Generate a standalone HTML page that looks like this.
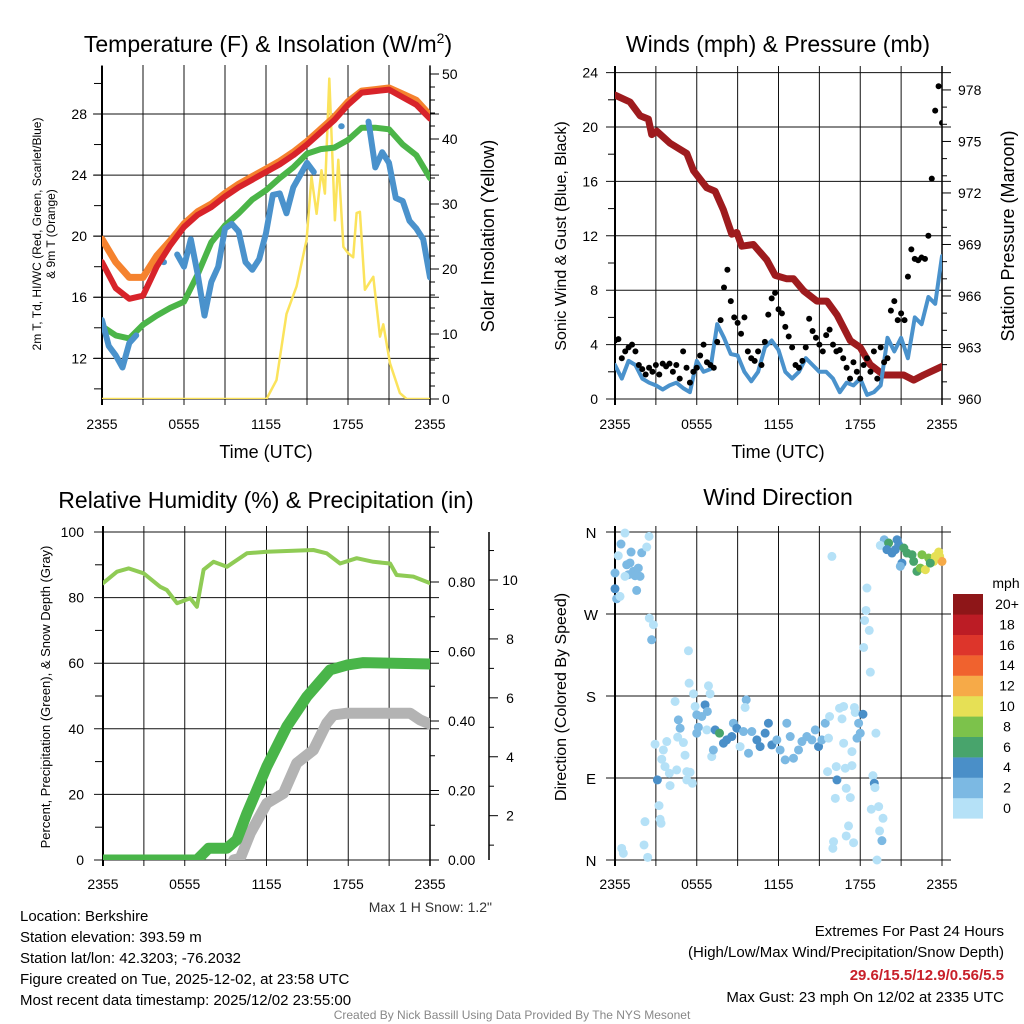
<!DOCTYPE html>
<html><head><meta charset="utf-8"><style>
html,body{margin:0;padding:0;background:#fff;}
svg{display:block;font-family:"Liberation Sans",sans-serif;}
</style></head><body>
<svg id="c" width="1024" height="1024" viewBox="0 0 1024 1024" xmlns="http://www.w3.org/2000/svg">
<defs>
<clipPath id="cp1"><rect x="102" y="71" width="328" height="328"/></clipPath>
<clipPath id="cp2"><rect x="615" y="72" width="327" height="327"/></clipPath>
<clipPath id="cp3"><rect x="103" y="532" width="327" height="328"/></clipPath>
</defs>
</svg>
<script>
// ---------- Panel 1 data ----------
const hourTimes=[0,1,2,3,4,5,6,7,8,9,10,11,12,13,14,15,16,17,18,19,20,21,22,23,24];
const tempRed=[18.3,16.6,15.9,16.1,18.0,19.4,20.6,21.4,21.9,22.6,23.2,23.7,24.2,24.7,25.3,26.0,26.8,27.6,28.6,29.4,29.5,29.6,29.1,28.6,27.7];
const tempOrange=[19.8,18.3,17.3,17.3,18.7,19.7,20.8,21.6,22.1,22.8,23.4,23.9,24.4,24.9,25.5,26.2,27.0,27.8,28.8,29.5,29.6,29.7,29.3,28.9,27.9];
const tempGreen=[14.1,13.5,13.3,14.2,14.8,15.3,15.7,17.5,19.6,20.7,21.5,22.4,23.0,23.8,24.5,25.4,25.7,25.8,26.3,27.1,27.1,27.0,26.0,25.3,23.8];
const halfTimes=[];for(let i=0;i<=48;i++)halfTimes.push(i/2);
const tempBlue=[14.5,12.8,12.2,11.4,13.0,13.5,null,null,null,18.3,null,18.8,18.0,19.8,17.5,14.8,17.0,18.0,20.5,20.8,20.3,18.3,17.8,18.5,20.2,22.7,22.8,21.5,23.2,24.0,24.8,24.2,null,null,null,27.2,null,null,null,27.5,24.5,25.5,24.8,22.5,22.3,21.0,20.5,19.8,17.3];
const solarTimes=[0,12.04,12.77,13.5,14.23,14.97,15.33,15.7,16.06,16.31,16.63,17.04,17.29,17.66,18.02,18.38,18.63,18.87,19.24,19.85,20.34,20.58,21.07,21.8,22.29,24];
const solarVals=[0,0,2.9,13.1,17.3,24.5,34.2,28.5,35.2,31.6,49.3,27.5,36.8,23.4,22.4,21.8,28.6,28.8,16.8,18.8,9.6,11.5,5.5,0.9,0,0];
const p1LeftTicks=[12,16,20,24,28];
const p1RightTicks=[0,10,20,30,40,50];
const timeLabels=["2355","0555","1155","1755","2355"];
const timeLabelHours=[0,6,12,18,24];
// ---------- Panel 2 data ----------
const presTimes=[0,1.1,1.84,2.45,2.69,3.06,4.04,5.27,5.76,6.74,7.35,7.96,8.57,8.94,9.31,10.16,11.14,11.76,12.61,13.1,13.84,14.82,15.55,16.29,17.27,18.0,18.74,19.72,20.2,21.19,21.92,22.65,24];
const presVals=[977.7,977.3,976.5,976.3,975.4,975.6,974.9,974.3,973.3,972.3,972.1,971.0,969.6,969.7,968.9,969.0,968.1,967.2,967.0,967.0,966.3,965.7,965.7,964.9,963.4,963.0,962.0,961.4,961.4,961.4,961.1,961.4,961.9];
const windVals=[2.5,1.5,2.8,2.5,1.5,1.2,1.0,0.7,1.0,1.2,0.8,0.5,2.8,2.0,2.2,5.5,4.5,3.3,3.2,2.0,1.3,2.0,3.8,4.3,3.6,2.0,1.5,2.0,3.0,2.5,2.0,2.0,1.5,0.5,1.2,1.0,1.5,0.3,0.5,1.0,4.5,3.5,4.5,3.0,6.0,5.5,7.5,7.0,10.5];
const gustVals=[4.3,4.4,3.0,3.5,3.8,4.0,3.5,2.5,2.2,1.8,2.3,2.0,2.5,1.8,2.6,2.4,2.6,2.0,2.5,1.5,3.5,2.3,1.2,2.0,2.3,3.2,4.0,2.7,2.5,2.3,4.2,5.8,8.2,9.5,7.2,6.0,5.6,4.8,6.0,3.5,3.0,2.8,3.5,2.5,4.2,6.2,7.4,7.8,6.6,6.3,5.3,4.6,3.8,2.5,2.3,2.8,3.8,5.9,5.0,4.5,4.0,3.5,4.7,5.1,4.0,3.5,3.6,3.0,2.3,1.5,2.7,2.0,1.5,2.5,3.0,2.0,3.5,1.5,3.8,2.7,3.0,6.5,7.2,5.8,6.3,5.8,9.0,11.0,10.3,10.2,10.4,10.3,12.0,16.2,21.2,23.0,20.3];
const p2LeftTicks=[0,4,8,12,16,20,24];
const p2RightTicks=[960,963,966,969,972,975,978];
// ---------- Panel 3 data ----------
const rhTimes=[0,1.03,1.88,2.98,4.2,4.69,5.43,6.4,6.89,7.38,8.11,9.09,10.56,12.02,15.44,16.42,17.4,18.62,19.84,21.07,21.55,22.78,24];
const rhVals=[84.4,87.9,88.9,87.4,83.3,82.3,78.3,79.8,77.2,88.5,90.9,89.4,93.5,94.0,94.5,93.5,90.4,92.0,90.9,90.4,86.9,86.4,84.4];
const precipTimes=[0,6.89,7.75,9.09,9.82,10.56,12.02,13.49,14.96,16.67,17.89,19.11,24];
const precipVals=[0,0,0.034,0.034,0.058,0.134,0.269,0.384,0.47,0.547,0.561,0.568,0.564];
const snowTimes=[9.6,10.07,10.8,12.02,13.25,14.22,15.44,16.42,16.91,17.89,22.54,23.27,24];
const snowVals=[0.5,0.55,1.4,2.42,2.76,3.78,4.23,5.14,5.42,5.48,5.48,5.25,5.11];
const p3LeftTicks=[0,20,40,60,80,100];
const p3PrecipTicks=["0.00","0.20","0.40","0.60","0.80"];
const p3SnowTicks=[2,4,6,8,10];
// ---------- Panel 4 data ----------
const dirTimes=[0.73,0.44,0.24,1.18,1.96,2.33,2.5,0,0.86,1.10,1.35,1.71,1.84,0.98,0.73,1.47,0,0.12,0.37,1.59,2.52,2.82,2.69,5.39,0.49,0.61,2.2,2.13,2.4,3.11,3.23,3.31,3.38,2.94,3.55,3.8,3.43,3.67,3.99,4.04,4.53,4.41,4.65,4.78,4.6,5.02,5.14,5.27,5.51,5.27,5.68,5.44,5.76,5.88,6.0,6.0,6.12,6.37,6.61,6.78,6.86,6.98,6.74,7.1,7.22,7.35,7.67,7.96,8.2,8.57,8.69,8.94,9.43,9.63,9.55,9.18,9.8,10.04,10.41,10.65,11.02,11.26,11.51,11.88,12.12,12.49,12.61,12.86,13.1,13.47,13.72,14.08,14.45,14.7,14.94,15.18,15.43,15.75,15.67,15.6,16.24,16.29,16.17,16.48,16.78,16.66,16.78,16.9,16.97,17.27,17.39,17.39,17.14,16.97,17.51,16.04,15.99,15.92,17.57,17.63,17.88,18.0,17.76,18.2,18.49,18.42,18.32,18.66,18.25,18.74,19.15,18.93,19.03,19.08,18.81,19.35,19.67,19.42,19.59,19.23,19.76,19.47,20.08,20.33,20.7,20.82,20.57,19.96,21.2,21.43,21.8,21.92,21.06,20.94,22.16,22.53,22.41,22.78,23.02,23.39,23.76,23.83,24,23.51,23.14];
const dirVals=[358.9,346.8,334,338,337.2,343.5,355.2,315,324,326,316.8,320.4,311.3,313.1,311.3,312,297.7,286.7,289.3,295.9,265.5,258.2,241.7,229.6,12.8,7.3,42.1,16.5,2.9,87.9,59.7,44.7,40.3,127.1,120.8,130,110.6,102.5,95.2,81.7,98.9,174,153.8,144.6,134.8,128.9,115,97,96.3,87.9,84.2,194.1,182.4,168.5,159.3,139.2,145.7,157.5,170.3,163,191.2,182.4,142.8,113.5,120.8,142.8,139.2,128.2,131.8,135.5,150.1,144.6,141,175.8,167.4,124.5,117.2,141,131.8,124.5,139.2,150.1,126.3,131.8,120.8,109.9,150.1,135.5,111.7,120.8,130,135.5,131.8,142.8,124.5,131.8,150.1,157.5,133.7,97,102.5,87.9,67.7,166.6,168.5,154.9,128.2,100.7,78.7,68.5,119,103.6,37.4,26.4,19,20.1,12.8,333.2,167.4,161.9,150.1,139.2,133.7,160,298.5,273.9,262.9,252,233.3,206.2,139.2,92.6,84.2,79.5,55.7,58.6,45.8,31.9,21.2,0,351.5,345.3,347.9,336.9,351.5,346,340.6,340.6,342.4,336.9,335.1,327.7,325.9,322.3,316.8,335.1,320.4,318.6,331.4,327.7,338,333.2,327.7,333.2,325.9];
const dirSpeeds=[1,3,1,3,3,1,1,3,3,3,3,3,3,3,1,3,5,3,1,3,1,1,3,1,1,1,1,1,1,5,1,1,1,1,1,1,1,1,1,1,1,1,3,3,1,1,1,1,1,1,1,1,1,1,3,3,3,3,5,3,1,1,1,1,3,5,7,5,5,5,3,5,3,3,1,1,3,3,5,5,5,5,5,3,3,3,3,3,3,3,3,3,3,3,5,3,3,1,1,1,1,5,1,1,1,1,1,1,1,1,1,1,1,1,1,1,1,1,1,1,3,3,3,5,1,1,1,1,1,1,1,1,5,1,1,1,1,1,3,1,3,1,7,5,5,5,5,5,7,7,7,7,5,3,7,9,9,11,9,11,11,11,13,11,7];
const legendLabels=["0","2","4","6","8","10","12","14","16","18","20+"];
const legendColors=["#b5e1f7","#7cb9e3","#4a8fc8","#48a46c","#7cc24b","#e6e055","#f6aa48","#f0622e","#dd352b","#bc1c25","#8e1618"];

// ---------- helpers ----------
const NS="http://www.w3.org/2000/svg";
const svg=document.getElementById('c');
function add(parent,tag,attrs,name,inter){
  const el=document.createElementNS(NS,tag);
  for(const k in attrs)el.setAttribute(k,attrs[k]);
  
  
  parent.appendChild(el);return el;
}
function txt(parent,x,y,s,size,anchor,name,extra){
  const a=Object.assign({x:x,y:y,'font-size':size,'text-anchor':anchor||'middle',fill:'#000'},extra||{});
  const el=add(parent,'text',a,name,false);el.textContent=s;return el;
}
function pathFrom(ts,vs,xf,yf){
  let d='',pen=false;
  for(let i=0;i<ts.length;i++){
    const v=vs[i];
    if(v===null||v===undefined){pen=false;continue;}
    const x=xf(ts[i]).toFixed(1),y=yf(v).toFixed(1);
    const nextNull=(i+1>=ts.length)||vs[i+1]===null;
    if(!pen){d+='M'+x+' '+y+(nextNull?' l0.5 0 ':' ');pen=true;}
    else d+='L'+x+' '+y+' ';
  }
  return d;
}
function grid(g,x0,x1,y0,y1,ys,nx){
  for(let i=0;i<=nx;i++){const x=x0+(x1-x0)*i/nx;add(g,'line',{x1:x,y1:y0-6,x2:x,y2:y1+6,stroke:'#111','stroke-width':1},'vertical-gridline',false);}
  ys.forEach(y=>{add(g,'line',{x1:x0-9,y1:y,x2:x1+9,y2:y,stroke:'#111','stroke-width':1},'horizontal-gridline',false);});
}

// ================= PANEL 1 =================
const g1=add(svg,'g',{},'temperature-panel',false);
const x1=t=>102+t*328/24, yT=v=>114+(28-v)*15.27, yS=v=>399-v*6.5;
grid(g1,102,430,71,399,p1LeftTicks.map(yT),8);
add(g1,'line',{x1:102,y1:66,x2:102,y2:405,stroke:'#000','stroke-width':2},'left-axis-line',false);
add(g1,'line',{x1:430,y1:66,x2:430,y2:405,stroke:'#000','stroke-width':1.5},'right-axis-line',false);
add(g1,'line',{x1:102,y1:399,x2:430,y2:399,stroke:'#000','stroke-width':1},'bottom-axis-line',false);
for(let v=10;v<=30;v+=2){const y=yT(v);if(y>71&&y<399)add(g1,'line',{x1:94,y1:y,x2:102,y2:y,stroke:'#000'},'left-minor-tick',false);}
for(let v=0;v<=50;v+=2){add(g1,'line',{x1:430,y1:yS(v),x2:v%10===0?439:435,y2:yS(v),stroke:'#000'},'right-tick',false);}
p1LeftTicks.forEach(v=>txt(g1,87,yT(v)+5,String(v),14,'end','left-tick-label'));
p1RightTicks.forEach(v=>txt(g1,442,yS(v)+5,String(v),14,'start','right-tick-label'));
timeLabelHours.forEach((h,i)=>txt(g1,x1(h),429,timeLabels[i],14,'middle','x-tick-label'));
const c1=add(g1,'g',{'clip-path':'url(#cp1)'},'temperature-series',false);
add(c1,'path',{d:pathFrom(solarTimes,solarVals,x1,yS),fill:'none',stroke:'#fbe35c','stroke-width':2.5,'stroke-linejoin':'round'},'solar-insolation-line',false);
add(c1,'path',{d:pathFrom(hourTimes,tempGreen,x1,yT),fill:'none',stroke:'#4bb548','stroke-width':6,'stroke-linejoin':'round','stroke-linecap':'round'},'dewpoint-line',false);
add(c1,'path',{d:pathFrom(halfTimes,tempBlue,x1,yT),fill:'none',stroke:'#4a92cc','stroke-width':6,'stroke-linejoin':'round','stroke-linecap':'round'},'heat-index-windchill-line',false);
add(c1,'path',{d:pathFrom(hourTimes,tempOrange,x1,yT),fill:'none',stroke:'#f5822e','stroke-width':7,'stroke-linejoin':'round','stroke-linecap':'round'},'temperature-9m-line',false);
add(c1,'path',{d:pathFrom(hourTimes,tempRed,x1,yT),fill:'none',stroke:'#d8232a','stroke-width':6,'stroke-linejoin':'round','stroke-linecap':'round'},'temperature-2m-line',false);
const t1=txt(g1,268,52,'Temperature (F) & Insolation (W/m',23,'middle','temperature-chart-title');
const sup=document.createElementNS(NS,'tspan');sup.setAttribute('dy','-9');sup.setAttribute('font-size','14');sup.textContent='2';


t1.appendChild(sup);
const cl=document.createElementNS(NS,'tspan');cl.setAttribute('dy','9');cl.textContent=')';


t1.appendChild(cl);
txt(g1,266,458,'Time (UTC)',18,'middle','x-axis-title');
txt(g1,0,0,'2m T, Td, HI/WC (Red, Green, Scarlet/Blue)',12,'middle','y-axis-title-line1',{transform:'translate(41,234) rotate(-90)'});
txt(g1,0,0,'& 9m T (Orange)',12,'middle','y-axis-title-line2',{transform:'translate(55,234) rotate(-90)'});
txt(g1,0,0,'Solar Insolation (Yellow)',18,'middle','right-axis-title',{transform:'translate(494,236) rotate(-90)'});

// ================= PANEL 2 =================
const g2=add(svg,'g',{},'winds-panel',false);
const x2=t=>615+t*327/24, yW=v=>399-v*13.6, yP=p=>399-(p-960)*17.17;
grid(g2,615,942,72,399,p2LeftTicks.map(yW),8);
add(g2,'line',{x1:615,y1:66,x2:615,y2:405,stroke:'#000','stroke-width':2},'left-axis-line',false);
add(g2,'line',{x1:942,y1:66,x2:942,y2:405,stroke:'#000','stroke-width':1.5},'right-axis-line',false);
for(let v=2;v<24;v+=4)add(g2,'line',{x1:608,y1:yW(v),x2:615,y2:yW(v),stroke:'#000'},'left-minor-tick',false);
for(let p=960;p<=978;p++)add(g2,'line',{x1:942,y1:yP(p),x2:p%3===0?951:947,y2:yP(p),stroke:'#000'},'right-tick',false);
p2LeftTicks.forEach(v=>txt(g2,598,yW(v)+5,String(v),14,'end','left-tick-label'));
p2RightTicks.forEach(v=>txt(g2,958,yP(v)+5,String(v),14,'start','right-tick-label'));
timeLabelHours.forEach((h,i)=>txt(g2,x2(h),429,timeLabels[i],14,'middle','x-tick-label'));
const c2=add(g2,'g',{'clip-path':'url(#cp2)'},'wind-series',false);
add(c2,'path',{d:pathFrom(presTimes,presVals,x2,yP),fill:'none',stroke:'#9e1b1e','stroke-width':7,'stroke-linejoin':'round','stroke-linecap':'round'},'pressure-line',false);
add(c2,'path',{d:pathFrom(halfTimes,windVals,x2,yW),fill:'none',stroke:'#4a92cc','stroke-width':4,'stroke-linejoin':'round','stroke-linecap':'round'},'sonic-wind-line',false);
gustVals.forEach((v,i)=>{add(c2,'circle',{cx:x2(i/4),cy:yW(v),r:3,fill:'#000'},'gust-point',false);});
txt(g2,778,52,'Winds (mph) & Pressure (mb)',23,'middle','winds-chart-title');
txt(g2,778,458,'Time (UTC)',18,'middle','x-axis-title');
txt(g2,0,0,'Sonic Wind & Gust (Blue, Black)',16,'middle','left-axis-title',{transform:'translate(566,236) rotate(-90)'});
txt(g2,0,0,'Station Pressure (Maroon)',18,'middle','right-axis-title',{transform:'translate(1014,236) rotate(-90)'});

// ================= PANEL 3 =================
const g3=add(svg,'g',{},'humidity-panel',false);
const x3=t=>103+t*327/24, yR=v=>860-v*3.28, yPr=v=>860-v*347.5, ySn=v=>874.6-v*29.46;
grid(g3,103,430,532,860,p3LeftTicks.map(yR),8);
add(g3,'line',{x1:103,y1:526,x2:103,y2:866,stroke:'#000','stroke-width':2},'left-axis-line',false);
add(g3,'line',{x1:430,y1:526,x2:430,y2:866,stroke:'#000','stroke-width':1.5},'right-axis-line',false);
for(let v=10;v<100;v+=20)add(g3,'line',{x1:95,y1:yR(v),x2:103,y2:yR(v),stroke:'#000'},'left-minor-tick',false);
for(let k=0;k<=9;k++){const v=k/10;add(g3,'line',{x1:430,y1:yPr(v),x2:k%2===0?439:435,y2:yPr(v),stroke:'#000'},'precip-tick',false);}
add(g3,'line',{x1:489,y1:532,x2:489,y2:860,stroke:'#000','stroke-width':1.5},'snow-axis-line',false);
for(let v=1;v<=11;v++){const y=ySn(v);if(y>=532)add(g3,'line',{x1:489,y1:y,x2:v%2===0?498:494,y2:y,stroke:'#000'},'snow-tick',false);}
p3LeftTicks.forEach(v=>txt(g3,84,yR(v)+5,String(v),14,'end','left-tick-label'));
p3PrecipTicks.forEach(s=>txt(g3,448,yPr(parseFloat(s))+5,s,14,'start','precip-tick-label'));
p3SnowTicks.forEach(v=>txt(g3,510,ySn(v)+5,String(v),14,'middle','snow-tick-label'));
timeLabelHours.forEach((h,i)=>txt(g3,x3(h),889,timeLabels[i],14,'middle','x-tick-label'));
const c3=add(svg,'g',{'clip-path':'url(#cp3)'},'humidity-series',false);
add(c3,'path',{d:pathFrom(snowTimes,snowVals,x3,ySn),fill:'none',stroke:'#b3b3b3','stroke-width':11,'stroke-linejoin':'round','stroke-linecap':'round'},'snow-depth-line',false);
add(c3,'path',{d:pathFrom(precipTimes,precipVals,x3,yPr),fill:'none',stroke:'#49b549','stroke-width':11,'stroke-linejoin':'round','stroke-linecap':'round'},'precipitation-line',false);
add(c3,'path',{d:pathFrom(rhTimes,rhVals,x3,yR),fill:'none',stroke:'#8fcb55','stroke-width':4,'stroke-linejoin':'round','stroke-linecap':'round'},'relative-humidity-line',false);
txt(g3,266,508,'Relative Humidity (%) & Precipitation (in)',23,'middle','humidity-chart-title');
txt(g3,0,0,'Percent, Precipitation (Green), & Snow Depth (Gray)',13,'middle','left-axis-title',{transform:'translate(50,697) rotate(-90)'});
txt(g3,492,912,'Max 1 H Snow: 1.2"',14,'end','max-snow-note',{fill:'#333'});

// ================= PANEL 4 =================
const g4=add(svg,'g',{},'wind-direction-panel',false);
const yD=d=>860-d*0.9111;
grid(g4,615,942,532,860,[0,90,180,270,360].map(yD),8);
add(g4,'line',{x1:615,y1:526,x2:615,y2:866,stroke:'#000','stroke-width':2},'left-axis-line',false);
["N","E","S","W","N"].forEach((s,i)=>txt(g4,591,yD(i*90)+6,s,15,'middle','direction-tick-label'));
timeLabelHours.forEach((h,i)=>txt(g4,x2(h),889,timeLabels[i],14,'middle','x-tick-label'));
function colorFor(s){let i=Math.floor(s/2);if(i>10)i=10;return legendColors[i];}
dirVals.forEach((d,i)=>{add(g4,'circle',{cx:x2(dirTimes[i]),cy:yD(d),r:4.5,fill:colorFor(dirSpeeds[i])},'direction-point',false);});
txt(g4,778,505,'Wind Direction',23,'middle','direction-chart-title');
txt(g4,0,0,'Direction (Colored By Speed)',16,'middle','left-axis-title',{transform:'translate(566,697) rotate(-90)'});
const lg=add(g4,'g',{},'speed-legend',false);
txt(lg,1006,588,'mph',14,'middle','legend-title');
legendColors.forEach((c,i)=>{
  const y=798-i*20.4;
  add(lg,'rect',{x:953,y:y,width:30,height:20.6,fill:c},'legend-swatch',false);
  txt(lg,1007,y+15,legendLabels[i],14,'middle','legend-label');
});

// ================= FOOTER TEXT =================
const ft=add(svg,'g',{},'info-text',false);
["Location: Berkshire","Station elevation: 393.59 m","Station lat/lon: 42.3203; -76.2032","Figure created on Tue, 2025-12-02, at 23:58 UTC","Most recent data timestamp: 2025/12/02 23:55:00"].forEach((s,i)=>txt(ft,20,921+i*21,s,15,'start','station-info-line'));
txt(ft,1004,936,'Extremes For Past 24 Hours',15,'end','extremes-title');
txt(ft,1004,957,'(High/Low/Max Wind/Precipitation/Snow Depth)',15,'end','extremes-subtitle');
txt(ft,1004,980,'29.6/15.5/12.9/0.56/5.5',15,'end','extremes-values',{fill:'#c8202a','font-weight':'bold'});
txt(ft,1004,1002,'Max Gust: 23 mph On 12/02 at 2335 UTC',15,'end','max-gust-text');
txt(ft,512,1019,'Created By Nick Bassill Using Data Provided By The NYS Mesonet',12,'middle','credit-text',{fill:'#888'});
</script>
</body></html>
